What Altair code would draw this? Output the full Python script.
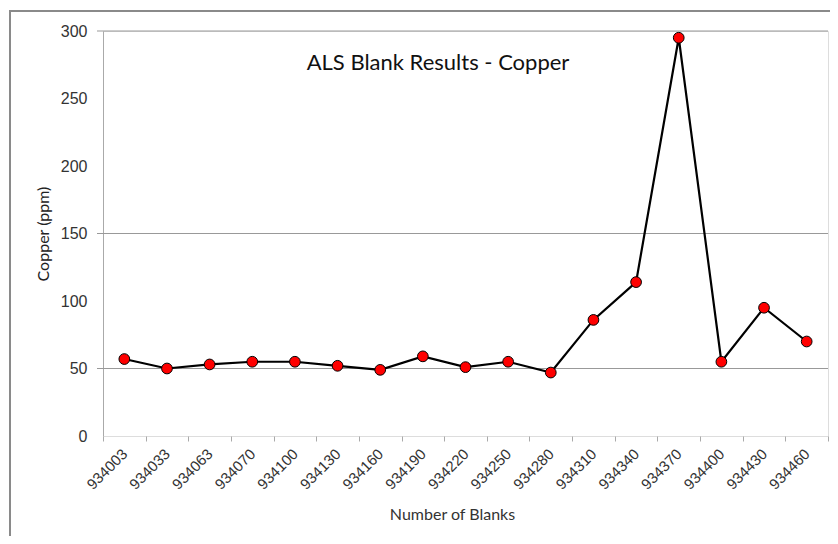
import altair as alt
import pandas as pd

blanks = ["934003", "934033", "934063", "934070", "934100", "934130", "934160",
          "934190", "934220", "934250", "934280", "934310", "934340", "934370",
          "934400", "934430", "934460"]
copper = [57, 50, 53, 55, 55, 52, 49, 59, 51, 55, 47, 86, 114, 295, 55, 95, 70]
grid_values = [50, 150, 300]
y_ticks = [0, 50, 100, 150, 200, 250, 300]
title_text = "ALS Blank Results - Copper"

df = pd.DataFrame({"blank": blanks, "copper": copper})
grid_df = pd.DataFrame({"g": grid_values})

W, H = 725, 405

xenc = alt.X("blank:N", sort=blanks, title="Number of Blanks",
             scale=alt.Scale(paddingInner=0, paddingOuter=0),
             axis=alt.Axis(labelAngle=-45, labelAlign="right", labelBaseline="middle",
                           labelPadding=10, labelFont="Liberation Sans", labelFontSize=15,
                           labelColor="#333", tickBand="extent", tickColor="#aaa",
                           tickSize=5, domain=False, grid=False,
                           titleFont="Lato", titleFontSize=16, titleFontWeight="normal",
                           titleColor="#333", titlePadding=14, titleX=349))
yenc = alt.Y("copper:Q", title="Copper (ppm)",
             scale=alt.Scale(domain=[0, 300], nice=False),
             axis=alt.Axis(values=y_ticks, grid=False, ticks=False, domainColor="#aaa",
                           labelFont="Liberation Sans", labelFontSize=16, labelColor="#333",
                           labelPadding=16, titleFont="Lato", titleFontSize=16,
                           titleFontWeight="normal", titleColor="#222", titlePadding=9))

border = pd.DataFrame({"a": [0]})
frame_top = alt.Chart(border).mark_rule(color="#8a8a8a", strokeWidth=2, clip=False).encode(
    x=alt.value(-93), x2=alt.value(760), y=alt.value(-20))
frame_left = alt.Chart(border).mark_rule(color="#8a8a8a", strokeWidth=2, clip=False).encode(
    x=alt.value(-93), y=alt.value(-21), y2=alt.value(600))

grid = alt.Chart(grid_df).mark_rule(color="#999", strokeWidth=1).encode(
    y=alt.Y("g:Q", scale=alt.Scale(domain=[0, 300], nice=False)),
    x=alt.value(-6), x2=alt.value(W))

line = alt.Chart(df).mark_line(color="black", strokeWidth=2.2).encode(x=xenc, y=yenc)
pts = alt.Chart(df).mark_point(filled=True, fill="#ff0000", stroke="black",
                               strokeWidth=1, size=115, opacity=1).encode(x=xenc, y=yenc)

title = alt.Chart(pd.DataFrame({"t": [title_text]})).mark_text(
    font="Lato", fontSize=22, color="#111", align="center", baseline="middle"
).encode(text="t:N", x=alt.value(335), y=alt.value(32))

chart = alt.layer(frame_top, frame_left, grid, line, pts, title).properties(
    width=W, height=H,
    autosize=alt.AutoSizeParams(type="none"),
    padding={"left": 95, "top": 23, "right": 2, "bottom": 100},
).configure_view(stroke=None).configure(background="white")

chart.save("out.html", embed_options={"renderer": "svg", "actions": False})
